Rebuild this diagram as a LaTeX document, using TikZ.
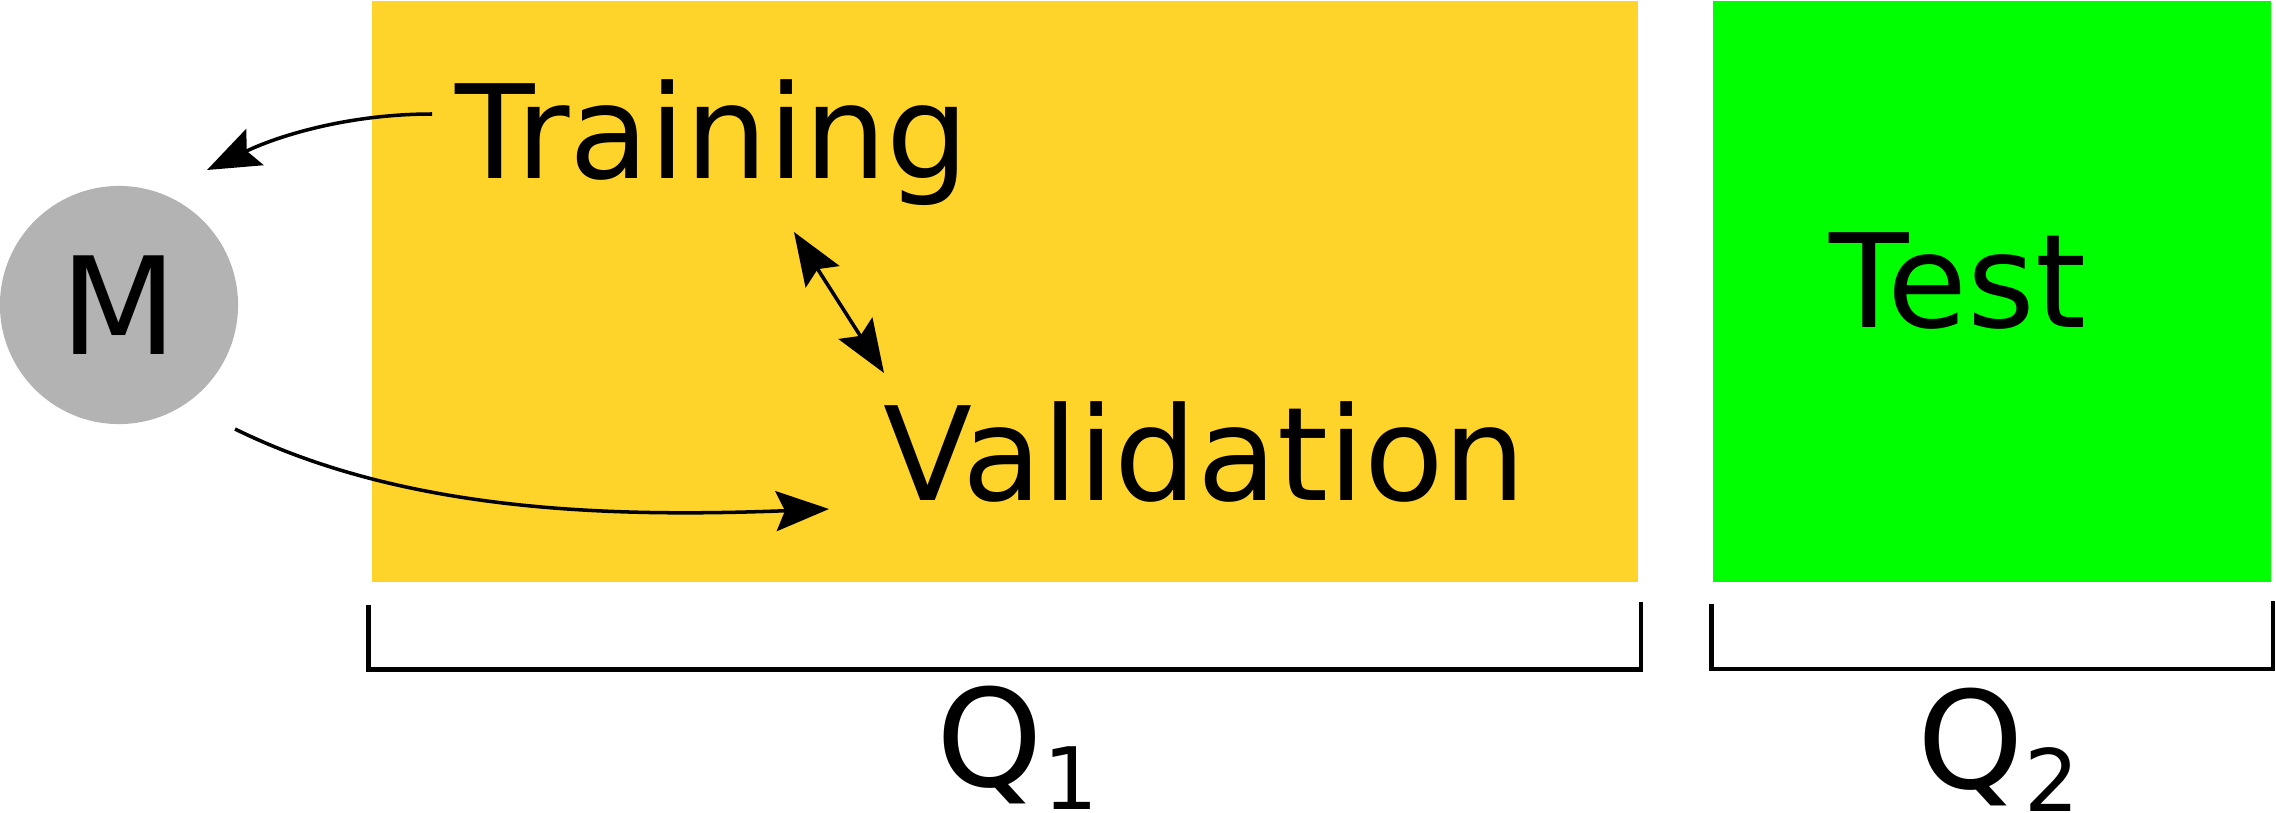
\documentclass[tikz,border=0pt]{standalone}
\usepackage{fontspec}
\setmainfont{DejaVu Sans}
\usetikzlibrary{arrows.meta}
\definecolor{yel}{HTML}{FFD42A}
\definecolor{grn}{HTML}{00FF00}
\definecolor{mgray}{HTML}{B3B3B3}
\begin{document}
\begin{tikzpicture}[x=0.01cm,y=-0.01cm,
  lbl/.style={inner sep=0pt, font=\fontsize{37}{40}\selectfont},
  big/.style={inner sep=0pt, font=\fontsize{38.5}{42}\selectfont},
  area/.style={inner sep=0pt, anchor=north west},
  brk/.style={line width=1.33pt, line join=miter, line cap=butt},
  tipL/.tip={Stealth[length=0.53cm,width=0.40cm,inset=0.09cm]},
  arr/.style={line width=1pt, -tipL},
  darr/.style={line width=1pt, tipL-tipL}]
\useasboundingbox (0,0) rectangle (2276,812);
% areas
\node[area, fill=yel, minimum width=12.66cm, minimum height=5.81cm] (qone) at (371,0) {};
\node[area, fill=grn, minimum width=5.58cm, minimum height=5.81cm] (qtwo) at (1712,0) {};
% model
\node[circle, fill=mgray, minimum size=2.38cm, inner sep=0pt, font=\fontsize{38.5}{42}\selectfont] (M) at (119,305) {M};
% labels
\node[lbl, anchor=base west] (train) at (455,178) {Training};
\node[lbl, anchor=base west] (valid) at (883,500) {Validation};
\node[lbl, anchor=base] (test) at (1958,327) {Test};
\node[big, anchor=base west] (q1) at (936,786) {Q\raisebox{-0.23cm}{\fontsize{24.5}{26}\selectfont 1}};
\node[big, anchor=base west] (q2) at (1917,788) {Q\raisebox{-0.23cm}{\fontsize{24.5}{26}\selectfont 2}};
% brackets
\coordinate (b1a) at (368.3,605);
\coordinate (b1b) at (368.3,669.3);
\coordinate (b1c) at (1641,669.3);
\coordinate (b1d) at (1641,602);
\coordinate (b2a) at (1711.3,603.7);
\coordinate (b2b) at (1711.3,669);
\coordinate (b2c) at (2273,669);
\coordinate (b2d) at (2273,600.7);
\draw[brk] (b1a) -- (b1b) -- (b1c) -- (b1d);
\draw[brk] (b2a) -- (b2b) -- (b2c) -- (b2d);
% arrows
\coordinate (trs) at (432,114);
\coordinate (trt) at (207,170);
\draw[arr] (trs) .. controls (350,114) and (280,135) .. (trt);
\coordinate (vs) at (235,429);
\coordinate (vt) at (829,509);
\draw[arr] (vs) .. controls (400,510) and (600,518) .. (vt);
\coordinate (da) at (794,232);
\coordinate (db) at (884,373);
\draw[darr] (da) -- (db);
\end{tikzpicture}
\end{document}
